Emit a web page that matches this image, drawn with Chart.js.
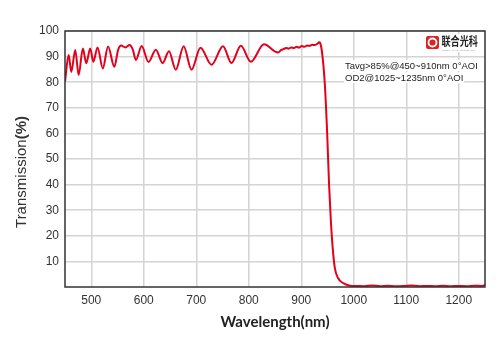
<!DOCTYPE html>
<html>
<head>
<meta charset="utf-8">
<script src="https://cdn.jsdelivr.net/npm/chart.js@4/dist/chart.umd.min.js"></script>
<style>
  html, body { margin: 0; padding: 0; background: #fff; }
  #wrap { width: 500px; height: 353px; }
</style>
</head>
<body>
<div id="wrap"><canvas id="chart" width="500" height="353"></canvas></div>
<script>
// wavelength (nm) and transmission (%)
const wavelengths = [
  450, 457, 462, 469.5, 476, 484, 490.5, 498, 504, 512, 522, 532, 544,
  551, 557, 565, 573, 579, 585, 596, 609, 623, 636, 648, 661, 676, 691, 708,
  729, 751, 767, 785, 804, 829, 856, 862, 866, 871, 876, 881, 886, 891, 896,
  901, 906, 911, 916, 921, 926, 931, 934, 936, 940, 945, 949.5, 953, 956.5,
  960, 964, 970, 980, 993,
  1005, 1020, 1035, 1050, 1065, 1080, 1095, 1110, 1125, 1140, 1155, 1170,
  1185, 1200, 1215, 1230, 1245, 1250
];
const transmission = [
  80.3, 90.6, 84.0, 92.6, 82.8, 93.2, 87.4, 93.2, 88.0, 93.6, 85.4, 93.9, 86.0,
  92.5, 94.3, 93.6, 94.5, 92.8, 88.7, 94.1, 87.9, 92.7, 87.5, 92.1, 84.9, 94.0, 84.9, 93.5,
  86.8, 94.0, 87.5, 94.2, 88.0, 94.8, 91.6, 92.6, 92.9, 93.4, 93.1, 93.6, 93.3, 93.8, 93.5,
  94.1, 93.8, 94.3, 94.2, 94.6, 94.5, 95.0, 95.6, 95.3, 91.0, 79.0, 59.4, 40.0, 25.5,
  15.0, 7.4, 3.5, 1.5, 0.5,
  0.4, 0.3, 0.6, 0.3, 0.5, 0.3, 0.4, 0.6, 0.3, 0.4, 0.3, 0.5,
  0.3, 0.4, 0.3, 0.5, 0.4, 0.8
];
const xTicks = [500, 600, 700, 800, 900, 1000, 1100, 1200];
const yTicks = [10, 20, 30, 40, 50, 60, 70, 80, 90, 100];
const notes = ['Tavg>85%@450~910nm 0°AOI', 'OD2@1025~1235nm 0°AOI'];

const tickFont = { family: '"Liberation Sans", Arial, sans-serif', size: 12 };

// frame, titles, note text and logo
const decor = {
  id: 'decor',
  afterDraw(chart) {
    const { ctx, chartArea: a } = chart;
    ctx.save();
    ctx.strokeStyle = '#333';
    ctx.lineWidth = 1.5;
    ctx.strokeRect(a.left, a.top, a.right - a.left, a.bottom - a.top);

    // y title: regular + bold part
    ctx.translate(22, 172);
    ctx.rotate(-Math.PI / 2);
    ctx.fillStyle = '#333';
    ctx.textBaseline = 'middle';
    ctx.font = '15px "Liberation Sans", Arial, sans-serif';
    const w1 = ctx.measureText('Transmission').width;
    ctx.font = 'bold 15px "Liberation Sans", Arial, sans-serif';
    const w2 = ctx.measureText('(%)').width;
    let sx = -(w1 + w2) / 2;
    ctx.font = '15px "Liberation Sans", Arial, sans-serif';
    ctx.fillText('Transmission', sx, 0);
    ctx.font = 'bold 15px "Liberation Sans", Arial, sans-serif';
    ctx.fillText('(%)', sx + w1, 0);
    ctx.restore();

    ctx.save();
    ctx.fillStyle = '#222';
    ctx.font = 'bold 15px Lato, "Liberation Sans", sans-serif';
    ctx.textAlign = 'center';
    ctx.textBaseline = 'middle';
    ctx.fillText('Wavelength(nm)', 275, 322);

    // notes
    ctx.font = '9.5px "Liberation Sans", Arial, sans-serif';
    ctx.textAlign = 'left';
    ctx.textBaseline = 'alphabetic';
    notes.forEach((t, i) => {
      const y = 69 + i * 12;
      const w = ctx.measureText(t).width;
      ctx.fillStyle = '#fff';
      ctx.fillRect(344, y - 9, w + 2, 11);
      ctx.fillStyle = '#222';
      ctx.fillText(t, 345, y);
    });

    // logo
    ctx.fillStyle = '#fff';
    ctx.fillRect(424, 34, 58, 18);
    ctx.fillStyle = '#e02020';
    ctx.beginPath();
    ctx.roundRect(426, 36, 13, 13, 2);
    ctx.fill();
    ctx.strokeStyle = '#fff';
    ctx.lineWidth = 1.8;
    ctx.beginPath();
    ctx.arc(432.5, 42.5, 4, 0, Math.PI * 2);
    ctx.stroke();
    ctx.save();
    ctx.translate(441.5, 46);
    ctx.scale(0.76, 1);
    ctx.fillStyle = '#222';
    ctx.font = 'bold 12px "Noto Sans CJK SC", sans-serif';
    ctx.fillText('联合光科', 0, 0);
    ctx.restore();
    ctx.fillStyle = '#999';
    ctx.font = '2.5px "Liberation Sans", sans-serif';
    ctx.fillText('UNION  JIAHE  OPTICS  CO.', 442, 50.5);
    ctx.restore();
  }
};

new Chart(document.getElementById('chart'), {
  type: 'line',
  data: {
    datasets: [{
      data: wavelengths.map((w, i) => ({ x: w, y: transmission[i] })),
      borderColor: '#e3001b',
      borderWidth: 2,
      pointRadius: 0,
      cubicInterpolationMode: 'monotone',
      fill: false
    }]
  },
  options: {
    responsive: false,
    animation: false,
    layout: { padding: { top: 31, right: 15, left: 0, bottom: 0 } },
    plugins: { legend: { display: false }, tooltip: { enabled: false } },
    scales: {
      x: {
        type: 'linear',
        min: 450,
        max: 1250,
        afterBuildTicks: s => { s.ticks = xTicks.map(v => ({ value: v })); },
        afterFit: s => { s.height = 66; },
        grid: { color: '#d4d4d4', lineWidth: 1.5, drawTicks: false },
        border: { display: false },
        ticks: { font: tickFont, color: '#333', padding: 6, maxRotation: 0, callback: v => String(v) }
      },
      y: {
        min: 0,
        max: 100,
        afterBuildTicks: s => { s.ticks = yTicks.map(v => ({ value: v })); },
        afterFit: s => { s.width = 65; },
        grid: { color: '#d4d4d4', lineWidth: 1.5, drawTicks: false },
        border: { display: false },
        ticks: { font: tickFont, color: '#333', padding: 6 }
      }
    }
  },
  plugins: [decor]
});
</script>
</body>
</html>
